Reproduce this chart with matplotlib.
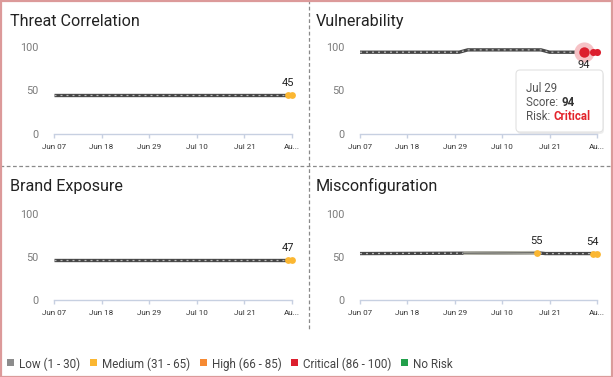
import matplotlib
matplotlib.use('Agg')
import matplotlib.pyplot as plt
import matplotlib.dates as mdates
from matplotlib.patches import FancyBboxPatch, Rectangle
from matplotlib.lines import Line2D
from matplotlib.text import Annotation
from matplotlib.transforms import IdentityTransform
import numpy as np

plt.rcParams['font.family'] = ['Roboto', 'DejaVu Sans']

# ---------------- data ----------------
YEAR = "2024-"
panel_titles = ["Threat Correlation", "Vulnerability", "Brand Exposure", "Misconfiguration"]

threat_dates = ["06-07", "07-31", "08-01"]
threat_values = [45, 45, 45]
threat_marker_dates = ["07-31", "08-01"]
threat_label_dates = ["07-31"]

vuln_dates = ["06-07", "06-30", "07-02", "07-19", "07-21", "07-29", "07-31", "08-01"]
vuln_values = [94, 94, 96.7, 96.7, 94, 94, 94, 94]
vuln_marker_dates = ["07-29", "07-31", "08-01"]
vuln_label_dates = ["07-29"]

brand_dates = ["06-07", "07-31", "08-01"]
brand_values = [47, 47, 47]
brand_marker_dates = ["07-31", "08-01"]
brand_label_dates = ["07-31"]

misc_dates = ["06-07", "07-01", "07-18", "07-20", "07-31", "08-01"]
misc_values = [54, 54.4, 55, 54, 54, 54]
misc_marker_dates = ["07-18", "07-31", "08-01"]
misc_label_dates = ["07-18", "07-31"]
misc_light_span = ["07-01", "07-18"]

x_tick_dates = ["06-07", "06-18", "06-29", "07-10", "07-21", "08-01"]
x_tick_labels = ["Jun 07", "Jun 18", "Jun 29", "Jul 10", "Jul 21", "Au..."]
y_ticks = [0, 50, 100]

legend_labels = ["Low (1 - 30)", "Medium (31 - 65)", "High (66 - 85)", "Critical (86 - 100)", "No Risk"]
legend_colors = ["#8c8c8c", "#fbb732", "#f68a33", "#dc1f2e", "#22a04b"]

tooltip_date = "Jul 29"
tooltip_score = "94"
tooltip_risk = "Critical"

# ---------------- helpers ----------------
W, H = 613, 377
fig = plt.figure(figsize=(W / 100, H / 100), dpi=100)
renderer = fig.canvas.get_renderer()


def dn(lst):
    return mdates.date2num(np.array([YEAR + s for s in lst], dtype='datetime64[D]'))


def frac(x, y_top):
    return x / W, 1 - y_top / H


MED = legend_colors[1]
CRIT = legend_colors[3]


def draw_series(ax, dates, values):
    x = dn(dates)
    ax.plot(x, values, color='#474747', lw=2.4, solid_capstyle='butt', zorder=3, clip_on=False)
    ax.plot(x, values, color='#b9b9b9', lw=0.9, dashes=(1.6, 3.2), zorder=4, clip_on=False)


def value_at(dates, values, d):
    return values[dates.index(d)]


def style_axes(ax):
    ax.set_xlim(dn(["06-07"])[0], dn(["08-01"])[0])
    ax.set_ylim(0, 100)
    ax.set_yticks(y_ticks)
    ax.set_xticks(dn(x_tick_dates))
    ax.set_xticklabels(x_tick_labels)
    for s in ['top', 'right', 'left']:
        ax.spines[s].set_visible(False)
    ax.spines['bottom'].set_color('#c7d0e1')
    ax.spines['bottom'].set_linewidth(1.0)
    ax.tick_params(axis='y', length=0, pad=11.5, labelsize=7.8, labelcolor='#7b7b7b')
    ax.tick_params(axis='x', length=3, width=1, color='#c7d0e1', pad=4.2,
                   labelsize=5.8, labelcolor='#333333')
    ax.patch.set_alpha(0)


def label_points(ax, dates, values, label_dates, above=True):
    for d in label_dates:
        v = value_at(dates, values, d)
        ax.annotate(f"{v:g}", (dn([d])[0], v), xytext=(0, 7 if above else -8),
                    textcoords='offset pixels', ha='center', va='bottom' if above else 'top',
                    fontsize=8, color='#222', zorder=10, annotation_clip=False)


# axes geometry (pixels): left, right, top(100), bottom(0)
geoms = [(54, 292, 47, 134), (360, 597, 47, 134), (54, 292, 214, 300), (360, 597, 214, 300)]
title_pos = [(9.5, 25.7), (316, 25.7), (9.5, 190.7), (316, 190.7)]

axes = []
for (l, r, t, b) in geoms:
    ax = fig.add_axes([l / W, 1 - b / H, (r - l) / W, (b - t) / H])
    style_axes(ax)
    axes.append(ax)

for (x, y), title in zip(title_pos, panel_titles):
    fx, fy = frac(x, y)
    fig.text(fx, fy, title, fontsize=11.6, color='#222222', va='baseline', ha='left')

# ---- Threat Correlation ----
ax = axes[0]
draw_series(ax, threat_dates, threat_values)
ax.scatter(dn(threat_marker_dates), [value_at(threat_dates, threat_values, d) for d in threat_marker_dates],
           s=24, color=MED, zorder=6, clip_on=False, linewidths=0)
label_points(ax, threat_dates, threat_values, threat_label_dates)

# ---- Vulnerability ----
ax = axes[1]
draw_series(ax, vuln_dates, vuln_values)
hx = dn(["07-29"])[0]
hy = value_at(vuln_dates, vuln_values, "07-29")
ax.scatter([hx], [hy], s=210, color='#f6c2c6', zorder=5, clip_on=False, linewidths=0)
ax.scatter(dn(vuln_marker_dates[1:]), [value_at(vuln_dates, vuln_values, d) for d in vuln_marker_dates[1:]],
           s=26, color=CRIT, zorder=6, clip_on=False, linewidths=0)
ax.scatter([hx], [hy], s=56, color=CRIT, zorder=7, clip_on=False, linewidths=0)
label_points(ax, vuln_dates, vuln_values, vuln_label_dates, above=False)

# ---- Brand Exposure ----
ax = axes[2]
draw_series(ax, brand_dates, brand_values)
ax.scatter(dn(brand_marker_dates), [value_at(brand_dates, brand_values, d) for d in brand_marker_dates],
           s=24, color=MED, zorder=6, clip_on=False, linewidths=0)
label_points(ax, brand_dates, brand_values, brand_label_dates)

# ---- Misconfiguration ----
ax = axes[3]
draw_series(ax, misc_dates, misc_values)
i0, i1 = misc_dates.index(misc_light_span[0]), misc_dates.index(misc_light_span[1])
seg_x = dn(misc_dates[i0:i1 + 1])
seg_y = misc_values[i0:i1 + 1]
ax.plot(seg_x, seg_y, color='#b8b8ac', lw=2.6, solid_capstyle='butt', zorder=4.5)
ax.plot(seg_x, seg_y, color='#555555', lw=0.7, zorder=4.6)
ax.scatter(dn(misc_marker_dates), [value_at(misc_dates, misc_values, d) for d in misc_marker_dates],
           s=24, color=MED, zorder=6, clip_on=False, linewidths=0)
label_points(ax, misc_dates, misc_values, misc_label_dates)

# ---------------- tooltip ----------------
tx0, ty0, tw, th = 516, 70, 87, 62
shadow = FancyBboxPatch((tx0 + 1, H - ty0 - th - 2), tw, th, boxstyle="round,pad=0,rounding_size=4",
                        transform=IdentityTransform(), facecolor='#000000', alpha=0.07, edgecolor='none', zorder=20)
box = FancyBboxPatch((tx0, H - ty0 - th), tw, th, boxstyle="round,pad=0,rounding_size=4",
                     transform=IdentityTransform(), facecolor='white', edgecolor='#e2e2e2', lw=0.8, zorder=21)
fig.add_artist(shadow)
fig.add_artist(box)
tt_kw = dict(fontsize=8.3, color='#555555', va='baseline', ha='left', zorder=22)
fx, fy = frac(526.5, 91.5)
fig.text(fx, fy, tooltip_date, **tt_kw)
fx, fy = frac(526.5, 106)
t1 = fig.text(fx, fy, "Score: ", **tt_kw)
fig.add_artist(Annotation(tooltip_score, xy=(1, 0), xycoords=t1, va='bottom', ha='left',
                          fontsize=8.3, color='#333333', fontweight='bold', zorder=22))
fx, fy = frac(526.5, 120.5)
t2 = fig.text(fx, fy, "Risk: ", **tt_kw)
fig.add_artist(Annotation(tooltip_risk, xy=(1, 0), xycoords=t2, va='bottom', ha='left',
                          fontsize=8.3, color='#e3242b', fontweight='bold', zorder=22))

# ---------------- dividers & border ----------------
fig.add_artist(Line2D([0, 1], [1 - 165.5 / H] * 2, transform=fig.transFigure,
                      color='#8a8a8a', lw=0.9, dashes=(3, 2)))
fig.add_artist(Line2D([308.5 / W] * 2, [1, 1 - 331 / H], transform=fig.transFigure,
                      color='#8a8a8a', lw=0.9, dashes=(3, 2)))
fig.add_artist(Rectangle((0.5, 0.5), W - 1.5, H - 1.5, transform=IdentityTransform(),
                         facecolor='none', edgecolor='#dc9a9a', lw=1.6, zorder=30))

# ---------------- legend (laid out left to right by measured text width) ----------------
leg_y = 362.7
sq = 7.0
gap_sq_text = 4.7
gap_items = 10.0
cur = 7.3
for lab, col in zip(legend_labels, legend_colors):
    fig.add_artist(Rectangle((cur, H - leg_y - sq / 2), sq, sq, transform=IdentityTransform(),
                             facecolor=col, edgecolor='none'))
    tx = cur + sq + gap_sq_text
    t = fig.text(tx / W, 1 - leg_y / H, lab, fontsize=8.4, color='#444444', va='center_baseline', ha='left')
    wpx = t.get_window_extent(renderer=renderer).width
    cur = tx + wpx + gap_items

fig.savefig('out.png', dpi=100)
